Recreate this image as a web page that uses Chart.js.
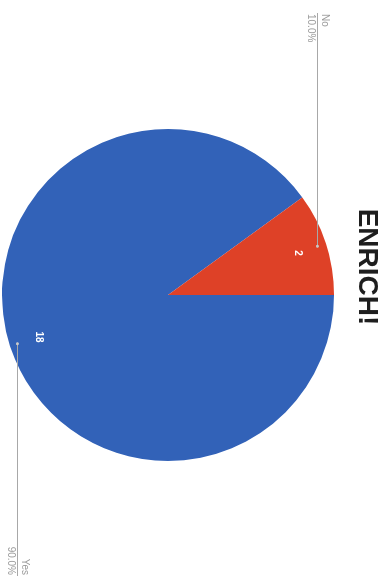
<!DOCTYPE html>
<html>
<head>
<meta charset="utf-8">
<script src="https://cdn.jsdelivr.net/npm/chart.js@4"></script>
<style>
  html, body { margin: 0; padding: 0; background: #fff; overflow: hidden; }
  body { width: 388px; height: 577px; position: relative; }
  /* the chart is drawn upright (577x388) and turned a quarter clockwise */
  #page {
    position: absolute; left: 0; top: 0;
    width: 577px; height: 388px;
    transform-origin: 0 0;
    transform: translate(388px, 0) rotate(90deg);
  }
  #title {
    position: absolute; left: 0; top: 6px; width: 534px;
    text-align: center;
    font: bold 28px "Liberation Sans", Arial, sans-serif;
    line-height: 28px;
    color: #1e1e1e;
  }
  #wrap { position: absolute; left: 0; top: 0; width: 577px; height: 388px; }
</style>
</head>
<body>
<div id="page">
  <div id="wrap"><canvas id="pie"></canvas></div>
  <div id="title">ENRICH!</div>
</div>
<script>
'use strict';

const labels = ['Yes', 'No'];
const counts = [18, 2];
const percents = ['90.0%', '10.0%'];
const colors = ['#3262b8', '#de4127'];

// numbers inside the slices plus the outside labels on leader lines
const sliceLabels = {
  id: 'sliceLabels',
  afterDatasetsDraw(chart) {
    const ctx = chart.ctx;
    const arcs = chart.getDatasetMeta(0).data;
    ctx.save();
    arcs.forEach((arc, i) => {
      const { x, y, startAngle, endAngle, outerRadius } = arc.getProps(
        ['x', 'y', 'startAngle', 'endAngle', 'outerRadius'], true);
      const mid = (startAngle + endAngle) / 2;
      const cos = Math.cos(mid), sin = Math.sin(mid);

      // count inside the slice
      ctx.fillStyle = '#ffffff';
      ctx.font = 'bold 10px "Liberation Sans", Arial, sans-serif';
      ctx.textAlign = 'center';
      ctx.textBaseline = 'middle';
      ctx.fillText(String(counts[i]), x + cos * outerRadius * 0.82, y + sin * outerRadius * 0.82);

      // leader line from inside the slice out to the edge
      const px = x + cos * outerRadius * 0.95;
      const py = Math.round(y + sin * outerRadius * 0.95) + 0.5;
      const left = cos < 0;
      const endX = left ? 13 : chart.width - 1;
      ctx.strokeStyle = '#a8a8a8';
      ctx.lineWidth = 1;
      ctx.beginPath();
      ctx.moveTo(px, py);
      ctx.lineTo(endX, py);
      ctx.stroke();
      ctx.fillStyle = '#c9c9c9';
      ctx.beginPath();
      ctx.arc(px, py, 1.5, 0, Math.PI * 2);
      ctx.fill();

      ctx.fillStyle = '#9a9a9a';
      ctx.font = '10px "Liberation Sans", Arial, sans-serif';
      ctx.textAlign = left ? 'left' : 'right';
      const tx = left ? endX + 1 : endX - 1;
      ctx.textBaseline = 'bottom';
      ctx.fillText(labels[i], tx, py - 2);
      ctx.textBaseline = 'top';
      ctx.fillText(percents[i], tx, py + 2);
    });
    ctx.restore();
  }
};

new Chart(document.getElementById('pie'), {
  type: 'pie',
  data: {
    labels,
    datasets: [{
      data: counts,
      backgroundColor: colors,
      borderWidth: 0,
    }],
  },
  options: {
    responsive: true,
    maintainAspectRatio: false,
    animation: false,
    layout: { padding: { left: 129, right: 116, top: 54, bottom: 2 } },
    plugins: {
      legend: { display: false },
      tooltip: { enabled: false },
    },
  },
  plugins: [sliceLabels],
});
</script>
</body>
</html>
